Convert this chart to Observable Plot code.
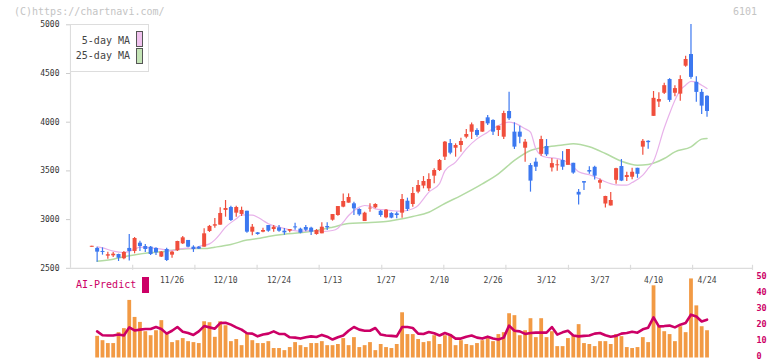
<!DOCTYPE html>
<html><head><meta charset="utf-8">
<script src="https://cdn.jsdelivr.net/npm/d3@7"></script>
<script src="https://cdn.jsdelivr.net/npm/@observablehq/plot@0.6"></script>
<style>
body{margin:0;background:#fff;}
#wrap{position:relative;width:772px;height:361px;overflow:hidden;font-family:"DejaVu Sans Mono",monospace;background:#fff;}
#wrap svg{position:absolute;left:0;top:0;overflow:visible;}
.lbl{position:absolute;white-space:pre;line-height:1;}
</style></head><body><div id="wrap"></div>
<script>
// ---- data ----
const openP=[2716,2704,2673,2625,2628,2642,2598,2704,2673,2758,2724,2717,2704,2615,2693,2635,2680,2751,2786,2717,2717,2717,2878,2933,2943,3094,3124,3066,3053,3086,2871,2864,2871,2939,2898,2915,2881,2881,2925,2902,2919,2912,2847,2854,2929,2994,3042,3128,3169,3162,3104,2980,3110,3121,3086,3018,3063,3059,3066,3189,3155,3282,3344,3316,3446,3504,3641,3781,3733,3761,3846,3897,3915,3898,4045,4018,3915,3846,4110,3898,3898,3733,3555,3590,3670,3750,3530,3553,3607,3557,3578,3280,3390,3504,3537,3374,3160,3140,3403,3545,3432,3435,3527,3744,3804,4060,4207,4297,4438,4297,4288,4575,4695,4410,4306,4266];
const highP=[2726,2717,2710,2666,2662,2645,2673,2847,2816,2779,2745,2724,2710,2673,2707,2676,2779,2827,2786,2731,2724,2906,2940,3012,3121,3196,3138,3138,3128,3086,2950,2868,2912,2939,2939,2939,2908,2898,2963,2912,2939,2922,2898,2967,2967,3052,3134,3264,3264,3179,3111,3076,3162,3162,3093,3104,3070,3076,3258,3220,3330,3401,3442,3470,3521,3617,3802,3822,3778,3836,3925,3993,3932,4007,4069,4024,3959,4113,4308,3994,3959,3822,3575,3630,3855,3822,3628,3612,3698,3720,3578,3309,3390,3543,3547,3418,3240,3278,3528,3617,3486,3526,3527,3822,3810,4315,4303,4400,4447,4373,4478,4676,5003,4467,4336,4272];
const lowP=[2716,2563,2635,2594,2611,2570,2587,2574,2649,2673,2663,2632,2632,2611,2570,2604,2673,2745,2710,2663,2693,2717,2868,2912,2943,3025,2981,3025,3032,2861,2835,2840,2864,2871,2871,2871,2840,2864,2891,2854,2874,2837,2840,2854,2888,2984,3035,3121,3169,3042,3035,2980,3076,3111,3025,3008,3008,3008,3015,3083,3128,3265,3316,3289,3367,3494,3607,3665,3641,3692,3829,3822,3846,3898,3966,3864,3853,3822,4018,3720,3778,3590,3282,3494,3651,3648,3488,3497,3506,3557,3465,3150,3300,3465,3406,3311,3119,3140,3362,3390,3391,3410,3424,3660,3721,4060,4150,4284,4204,4262,4216,4563,4442,4204,4079,4050];
const closeP=[2726,2666,2663,2639,2645,2604,2662,2673,2806,2724,2693,2642,2659,2666,2580,2666,2775,2813,2717,2693,2697,2854,2930,2947,3063,3114,2991,3124,3094,2871,2922,2847,2888,2881,2922,2881,2864,2898,2915,2861,2891,2871,2888,2922,2915,3052,3134,3186,3227,3110,3049,3066,3117,3155,3042,3097,3015,3042,3206,3104,3268,3350,3391,3412,3504,3607,3795,3682,3761,3802,3874,3973,3864,4007,3983,3898,3959,4089,4035,3744,3846,3795,3395,3538,3822,3665,3575,3562,3538,3720,3478,3252,3375,3488,3446,3400,3237,3196,3523,3395,3452,3486,3465,3804,3790,4245,4233,4375,4224,4345,4438,4644,4460,4306,4165,4110];
const ma5Idx=[1,2,4,6,8,9,11,13,15,16,18,19,20,22,23,24,25,27,28,30,31,32,33,35,37,39,41,43,45,46,47,48,50,51,52,53,55,56,57,58,60,61,62,63,65,66,68,69,70,72,74,76,78,79,81,82,83,84,85,87,89,90,91,93,95,96,98,100,101,103,104,105,107,108,109,110,111,112,113,114,115];
const ma5Val=[2720,2710,2676,2662,2696,2717,2710,2696,2683,2693,2707,2700,2724,2751,2792,2854,2922,3008,3049,3045,3025,2991,2957,2922,2895,2881,2888,2878,2888,2912,2974,3042,3128,3145,3138,3111,3100,3093,3087,3087,3111,3145,3213,3282,3370,3500,3590,3658,3727,3829,3898,3966,4000,3990,3932,3898,3727,3658,3640,3627,3586,3542,3491,3460,3415,3388,3357,3354,3380,3456,3525,3600,3940,4089,4226,4329,4380,4420,4410,4380,4346];
const ma25Idx=[1,4,7,10,13,16,19,21,23,26,29,31,33,36,39,42,45,48,51,55,57,60,63,66,69,73,76,79,82,85,88,90,93,96,99,102,104,107,109,112,114,115];
const ma25Val=[2573,2594,2628,2655,2669,2693,2703,2703,2717,2744,2790,2805,2827,2850,2864,2888,2922,2960,2967,2980,2998,3032,3076,3165,3247,3367,3470,3607,3709,3744,3765,3778,3747,3679,3600,3559,3566,3627,3696,3747,3826,3833];
const volume=[null,13.5,10.8,9.0,9.0,15.8,18.3,35.9,25.3,22.2,16.4,13.9,17.0,23.3,14.6,9.6,10.8,12.1,10.2,9.6,9.0,22.6,22.0,12.9,22.6,20.1,10.2,11.5,7.7,15.2,10.8,9.0,9.0,10.2,5.9,5.9,4.6,6.5,9.6,7.7,6.5,9.0,9.0,10.2,7.7,7.7,8.4,12.1,7.7,12.7,6.5,7.7,9.6,4.6,8.4,6.5,5.9,8.4,28.2,14.6,14.6,11.5,9.6,10.2,13.9,8.4,13.9,14.6,7.7,10.8,8.4,7.7,9.0,10.8,12.1,10.2,14.6,15.8,27.6,26.4,13.9,17.0,24.5,12.7,24.5,12.7,16.4,7.1,7.1,12.1,13.9,20.8,9.0,8.4,7.1,10.2,10.2,8.4,14.6,13.3,6.5,5.9,6.5,12.7,9.6,45.0,19.5,16.4,14.6,10.2,19.5,15.8,49.3,32.5,19.5,17.0];
const aiPredict=[null,16.6,14.2,14.0,14.0,14.6,14.0,19.1,17.2,17.7,18.1,18.1,19.3,18.1,15.2,17.0,19.3,16.4,15.6,14.4,16.6,19.9,19.1,18.3,21.8,22.0,20.8,19.1,17.7,15.4,15.2,13.5,14.6,15.2,16.6,15.0,15.0,12.9,12.7,12.1,12.9,13.5,13.1,14.4,13.3,11.5,12.9,14.0,17.0,19.3,17.7,17.0,17.0,18.7,14.6,14.0,13.8,13.5,19.3,19.3,18.7,15.2,15.0,16.2,15.4,14.0,15.6,14.4,12.1,12.1,13.3,14.0,12.7,12.1,13.3,12.1,11.5,12.7,20.2,17.0,16.6,15.0,15.6,15.8,15.8,15.8,19.3,14.6,16.0,17.0,14.0,13.5,13.8,14.0,15.2,15.6,14.2,13.3,13.8,15.2,15.6,16.4,15.8,17.9,18.9,25.3,19.7,19.9,20.2,19.1,20.8,21.8,27.0,25.9,22.8,23.9];
const dateLabels=["11/26","12/10","12/24","1/13","1/27","2/10","2/26","3/12","3/27","4/10","4/24"];
const dateIdx=[15,25,35,45,55,65,75,85,95,105,115];
const priceTicks=[2500,3000,3500,4000,4500,5000];
const volTicks=[0,10,20,30,40,50];
const frameTicks=[7.64,19.27,30.9,42.5,54.2,65.8,77.4,89.1,100.7,112.3,123.5];

// ---- build ----
const RED="#f04e3c", BLUE="#3c78f0";
const candles=closeP.map((c,i)=>({i,o:openP[i],h:highP[i],l:lowP[i],c,col:c>=openP[i]?RED:BLUE}));
const ma5=ma5Idx.map((x,k)=>({x,y:ma5Val[k]}));
const ma25=ma25Idx.map((x,k)=>({x,y:ma25Val[k]}));
const vols=volume.map((v,i)=>({i,v})).filter(d=>d.v!=null);
const ai=aiPredict.map((v,i)=>({i,v})).filter(d=>d.v!=null);
const xDomain=[-3.98,123.5];
const labelMap=new Map(dateIdx.map((v,k)=>[v,dateLabels[k]]));

const main=Plot.plot({
  width:772,height:290,
  marginLeft:70,marginRight:20,marginTop:24.3,marginBottom:22.2,
  x:{domain:xDomain,label:null},
  y:{domain:[2500,5000],label:null},
  style:{background:"transparent",fontFamily:"DejaVu Sans Mono, monospace",overflow:"visible"},
  marks:[
    Plot.ruleX([xDomain[0]],{stroke:"#dcdcdc",strokeWidth:1.2}),
    Plot.ruleY([2500],{stroke:"#dcdcdc",strokeWidth:1.2}),
    Plot.ruleX(frameTicks,{y1:2479,y2:2531,stroke:"#dcdcdc",strokeWidth:1.2}),
    Plot.axisY({ticks:priceTicks,tickSize:4,tickPadding:7,fontSize:8,stroke:"#cccccc",fill:"#333",label:null,tickFormat:d=>String(d)}),
    Plot.axisX({ticks:dateIdx,tickSize:0,tickPadding:9,fontSize:8,fill:"#444",label:null,tickFormat:d=>labelMap.get(d)}),
    Plot.line(ma25,{x:"x",y:"y",stroke:"#b3dba3",strokeWidth:1.5,curve:"monotone-x"}),
    Plot.line(ma5,{x:"x",y:"y",stroke:"#e8b2ea",strokeWidth:1.2,curve:"monotone-x"}),
    Plot.ruleX(candles,{x:"i",y1:"l",y2:"h",stroke:"col",strokeWidth:1.2}),
    Plot.ruleX(candles,{x:"i",y1:"o",y2:"c",stroke:"col",strokeWidth:4})
  ]
});

const vol=Plot.plot({
  width:772,height:361,
  marginLeft:70,marginRight:20,marginTop:277.3,marginBottom:3.5,
  x:{domain:xDomain,axis:null,label:null},
  y:{domain:[0,50],label:null},
  style:{background:"transparent",fontFamily:"DejaVu Sans Mono, monospace",overflow:"visible"},
  marks:[
    Plot.ruleX(vols,{x:"i",y1:0,y2:"v",stroke:"#f29a44",strokeWidth:3.8}),
    Plot.line(ai,{x:"i",y:"v",stroke:"#cc0066",strokeWidth:2.6}),
    Plot.axisY({anchor:"right",ticks:volTicks,tickSize:0,tickPadding:4,fontSize:8.5,fontWeight:"bold",fill:"#cc0066",label:null,dy:-1.5})
  ]
});

const wrap=document.getElementById("wrap");
wrap.appendChild(main);
wrap.appendChild(vol);

function addDiv(html,style){const d=document.createElement("div");d.className="lbl";d.innerHTML=html;Object.assign(d.style,style);wrap.appendChild(d);return d;}
addDiv("(C)https://chartnavi.com/",{left:"14px",top:"7px",fontSize:"10px",color:"#c4c4c4"});
addDiv("6101",{right:"15px",top:"7px",fontSize:"10px",color:"#c4c4c4"});
// legend box
addDiv("",{left:"70px",top:"24px",width:"79px",height:"48px",boxSizing:"border-box",border:"1px solid #dddddd",background:"#fff"});
addDiv("5-day MA",{right:(772-130)+"px",top:"36px",fontSize:"10px",color:"#444"});
addDiv("25-day MA",{right:(772-130)+"px",top:"51px",fontSize:"10px",color:"#444"});
addDiv("",{left:"136px",top:"31px",width:"7px",height:"16px",boxSizing:"border-box",border:"1px solid #555",background:"#f0c2ee"});
addDiv("",{left:"136px",top:"48px",width:"7px",height:"16px",boxSizing:"border-box",border:"1px solid #555",background:"#c4e4b6"});
// AI predict label
addDiv("AI-Predict",{left:"76px",top:"280px",fontSize:"10px",color:"#cc0066"});
addDiv("",{left:"142px",top:"277px",width:"7px",height:"16px",background:"#cc0066"});
</script></body></html>
